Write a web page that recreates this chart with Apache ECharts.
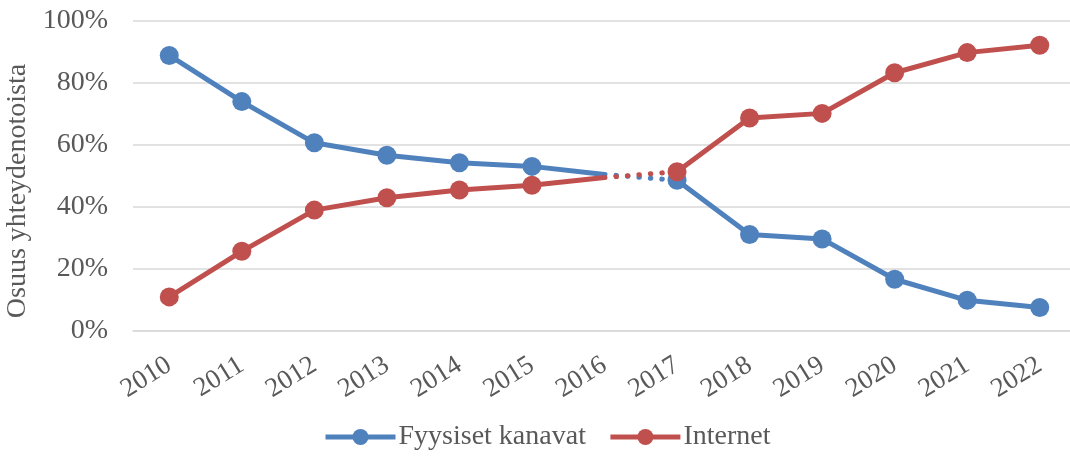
<!DOCTYPE html>
<html>
<head>
<meta charset="utf-8">
<script src="https://cdn.jsdelivr.net/npm/echarts@6/dist/echarts.min.js"></script>
<style>
  html, body { margin: 0; padding: 0; background: #fff; overflow: hidden; }
  #chart { width: 1080px; height: 458px; }
</style>
</head>
<body>
<div id="chart"></div>
<script>
const years = ['2010', '2011', '2012', '2013', '2014', '2015', '2016', '2017', '2018', '2019', '2020', '2021', '2022'];
const physical = [88.9, 74.0, 60.7, 56.7, 54.3, 53.1, 50.5, 48.6, 31.1, 29.7, 16.7, 9.9, 7.6];
const internet = [11.0, 25.7, 39.0, 43.0, 45.5, 47.0, 49.5, 51.4, 68.7, 70.2, 83.3, 89.8, 92.2];
const yTicks = [0, 20, 40, 60, 80, 100];
// 2016 -> 2017 is drawn dotted
const breakIdx = 6;

const FONT = '"Liberation Serif", "Times New Roman", serif';
const TEXT = '#595959';
const BLUE = '#4F81BD';
const RED = '#C0504D';

function before(arr) {
  return arr.map((v, i) => i < breakIdx ? v : (i === breakIdx ? { value: v, symbol: 'none' } : '-'));
}
function after(arr) {
  return arr.map((v, i) => i > breakIdx ? v : '-');
}
function gap(arr) {
  return arr.map((v, i) => (i === breakIdx || i === breakIdx + 1) ? v : '-');
}

function group(name, arr, color) {
  const solid = {
    name: name,
    type: 'line',
    color: color,
    symbol: 'circle',
    symbolSize: 19,
    lineStyle: { width: 5, color: color },
    itemStyle: { color: color },
    animation: false,
    z: 3
  };
  return [
    Object.assign({}, solid, { data: before(arr) }),
    Object.assign({}, solid, { data: after(arr) }),
    {
      name: name,
      type: 'line',
      color: color,
      data: gap(arr),
      showSymbol: false,
      symbol: 'none',
      lineStyle: { width: 5, color: color, type: [0.5, 11], cap: 'round' },
      animation: false,
      z: 2
    }
  ];
}

const chart = echarts.init(document.getElementById('chart'));
chart.setOption({
  backgroundColor: '#fff',
  textStyle: { fontFamily: FONT, color: TEXT },
  grid: { left: 133, top: 21, width: 943, height: 310, outerBoundsMode: 'none' },
  legend: {
    data: ['Fyysiset kanavat', 'Internet'],
    bottom: 2,
    left: 318,
    itemWidth: 70,
    itemHeight: 20,
    itemGap: 22,
    lineStyle: { width: 5 },
    textStyle: { fontFamily: FONT, fontSize: 28, color: TEXT, padding: [0, 0, 0, -2] }
  },
  xAxis: {
    type: 'category',
    data: years,
    boundaryGap: true,
    axisLine: { show: true, lineStyle: { color: '#d9d9d9', width: 1.5 } },
    axisTick: { show: false },
    axisLabel: {
      rotate: 32,
      margin: 32,
      fontFamily: FONT,
      fontSize: 27,
      color: TEXT,
      interval: 0
    }
  },
  yAxis: {
    type: 'value',
    min: 0,
    max: 100,
    interval: 20,
    name: 'Osuus yhteydenotoista',
    nameLocation: 'middle',
    nameGap: 94,
    nameRotate: 90,
    nameTextStyle: { fontFamily: FONT, fontSize: 28, color: TEXT, padding: [0, 30, 0, 0] },
    axisLine: { show: false },
    axisTick: { show: false },
    splitLine: { lineStyle: { color: '#d9d9d9', width: 1.5 } },
    axisLabel: {
      margin: 25,
      fontFamily: FONT,
      fontSize: 28,
      color: TEXT,
      formatter: v => yTicks.includes(v) ? v + '%' : ''
    }
  },
  series: [
    ...group('Fyysiset kanavat', physical, BLUE),
    ...group('Internet', internet, RED)
  ]
});
</script>
</body>
</html>
